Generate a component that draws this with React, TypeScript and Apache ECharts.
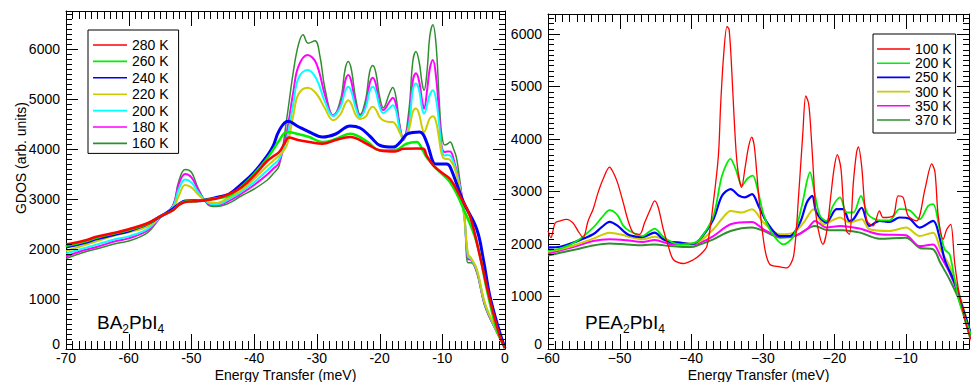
import React, { useEffect, useRef } from "react";
import * as echarts from "echarts";

const FONT = "'Liberation Sans', Arial, Helvetica, sans-serif";

// ---------- BA2PbI4 (left panel) : [energy transfer (meV), GDOS] ----------
const baNames = ["280 K", "260 K", "240 K", "220 K", "200 K", "180 K", "160 K"];
const baColors = ["#ff0000", "#00ee00", "#0000ff", "#cccc00", "#00ffff", "#ff00ff", "#2f8f2f"];
const baWidths = [2.5, 2.5, 3, 2, 2, 2, 1.5];

const ba280: number[][] = [[-70,2090],[-67,2170],[-65,2250],[-62,2330],[-60,2395],[-57,2515],[-55,2650],[-53,2770],[-52,2880],[-51,2940],[-50,2950],[-49,2960],[-48,2975],[-47,2990],[-46,3010],[-44,3099],[-42,3233],[-40,3468],[-38,3750],[-37,3850],[-36,3940],[-35,4150],[-34.5,4230],[-33,4180],[-31.2,4139],[-29.1,4105],[-27,4180],[-24.7,4239],[-22,4100],[-19.9,3970],[-17.5,3950],[-16.2,4004],[-14,4010],[-13,4004],[-12.5,3869],[-11.4,3668],[-10,3520],[-8.75,3400],[-7.2,3065],[-5.6,2662],[-4,1857],[-2.4,986],[-0.8,247],[0,20]];
const ba260: number[][] = [[-70,2060],[-67,2150],[-65,2230],[-62,2320],[-60,2380],[-57,2505],[-55,2650],[-53,2770],[-52,2885],[-51,2950],[-50,2955],[-49,2962],[-48,2980],[-47,2995],[-46,3015],[-44,3065],[-42,3250],[-40,3500],[-38,3800],[-37,3980],[-36,4171],[-34.8,4340],[-33,4300],[-31.2,4239],[-29.1,4139],[-27,4200],[-24.7,4306],[-22,4150],[-19.9,3970],[-17.5,3980],[-15.7,4105],[-14.1,4139],[-13.1,3970],[-12.5,3836],[-10.9,3602],[-8.75,3333],[-6.6,2797],[-4.5,2126],[-2.9,1187],[-1.3,382],[0,20]];
const ba240: number[][] = [[-70,2040],[-67,2130],[-65,2207],[-62,2300],[-60,2360],[-57,2500],[-55,2650],[-53,2797],[-52,2897],[-51,2960],[-50,2964],[-49,2964],[-48,2975],[-47,3000],[-46,3030],[-44,3099],[-42,3300],[-40,3535],[-38,3850],[-37,4050],[-36,4370],[-34.6,4553],[-33,4450],[-31.2,4340],[-29.1,4239],[-27,4300],[-24.7,4461],[-23.1,4420],[-21.5,4250],[-19.9,4070],[-17.8,4038],[-16.7,4139],[-15.5,4306],[-13.6,4340],[-12.5,4139],[-11.4,3720],[-10.9,3700],[-9.3,3702],[-8.75,3642],[-6.6,2932],[-4.5,2394],[-3.45,1791],[-2.4,1053],[-0.8,316],[0,20]];
const ba220: number[][] = [[-70,1960],[-67,2080],[-65,2160],[-62,2280],[-60,2334],[-57,2448],[-55,2640],[-53,2800],[-52,3065],[-51,3280],[-50,3233],[-49,3100],[-48,2990],[-47,2930],[-46,2920],[-44,3032],[-42,3186],[-40,3400],[-38,3650],[-37,3760],[-36,3870],[-34.8,4070],[-33.75,4674],[-32.95,5090],[-31.5,5225],[-30.1,5110],[-28.7,4809],[-27.4,4574],[-26.2,4700],[-25.5,4900],[-25,4976],[-24.5,4900],[-23.8,4680],[-23.1,4600],[-22.2,4650],[-21.6,4790],[-21.1,4843],[-20.6,4790],[-20,4640],[-19.4,4574],[-18.4,4540],[-17.9,4541],[-17.4,4480],[-16.8,4330],[-16.2,4205],[-15.3,4400],[-14.7,4740],[-14.2,4809],[-13.7,4700],[-13.2,4420],[-12.9,4340],[-12.4,4480],[-12,4610],[-11.5,4654],[-11,4550],[-10.5,4200],[-10.1,3900],[-9.6,3803],[-9.2,3800],[-8.75,3780],[-8,3600],[-7.2,3200],[-6.5,2650],[-5.9,1900],[-5.4,1820],[-4.5,1600],[-3.2,920],[-1.5,410],[0,20]];
const ba200: number[][] = [[-70,1910],[-67,2020],[-65,2093],[-62,2200],[-60,2253],[-57,2400],[-55,2630],[-53,2830],[-52,3200],[-51,3390],[-50,3333],[-49,3150],[-48,2990],[-47,2905],[-46,2895],[-44,2998],[-42,3150],[-40,3333],[-38,3560],[-37,3680],[-36,3800],[-34.8,4205],[-33.75,4909],[-32.95,5412],[-31.5,5580],[-30.1,5412],[-28.7,4943],[-27.4,4661],[-26.2,4850],[-25.5,5150],[-25,5245],[-24.5,5150],[-23.8,4820],[-23.1,4640],[-22.2,4830],[-21.6,5150],[-21.1,5245],[-20.6,5150],[-20,4850],[-19.4,4720],[-18.4,4820],[-17.9,4876],[-17.4,4780],[-16.8,4400],[-16.2,4190],[-15.3,4500],[-14.7,5180],[-14.2,5312],[-13.7,5180],[-13.2,4800],[-12.9,4708],[-12.4,4900],[-12,5080],[-11.5,5177],[-11,5000],[-10.5,4500],[-10.1,4000],[-9.6,3870],[-9.2,3880],[-8.75,3870],[-8,3650],[-7.2,3250],[-6.5,2650],[-5.9,1850],[-5.4,1800],[-4.5,1580],[-3.2,900],[-1.5,400],[0,20]];
const ba180: number[][] = [[-70,1850],[-67,1980],[-65,2046],[-62,2160],[-60,2213],[-57,2370],[-55,2625],[-53,2850],[-52,3300],[-51,3500],[-50,3434],[-49,3200],[-48,2990],[-47,2890],[-46,2875],[-44,2964],[-42,3110],[-40,3280],[-38,3480],[-37,3600],[-36,3730],[-34.8,4340],[-33.75,5145],[-32.95,5647],[-31.5,5881],[-30.1,5714],[-28.7,5077],[-27.4,4674],[-26.2,4900],[-25.5,5350],[-25,5479],[-24.5,5350],[-23.8,4880],[-23.1,4650],[-22.2,4880],[-21.6,5300],[-21.1,5426],[-20.6,5300],[-20,4900],[-19.4,4780],[-18.4,4950],[-17.9,5024],[-17.4,4900],[-16.8,4450],[-16.2,4200],[-15.3,4600],[-14.7,5360],[-14.2,5513],[-13.7,5360],[-13.2,4950],[-12.9,4809],[-12.4,5200],[-12,5600],[-11.5,5781],[-11,5450],[-10.5,4700],[-10.1,4050],[-9.6,3940],[-9.2,3950],[-8.75,3950],[-8,3700],[-7.2,3300],[-6.5,2700],[-5.9,1800],[-5.4,1780],[-4.5,1560],[-3.2,880],[-1.5,390],[0,20]];
const ba160: number[][] = [[-70,1810],[-67,1940],[-65,2005],[-62,2110],[-60,2159],[-57,2327],[-55,2620],[-53,2864],[-52,3366],[-51,3590],[-50,3535],[-49,3233],[-48,2998],[-47,2860],[-46,2850],[-44,2917],[-42,3065],[-40,3200],[-38,3370],[-37,3500],[-36,3670],[-34.8,4608],[-33.75,5547],[-32.95,6082],[-32.2,6284],[-31.4,6117],[-30.3,6163],[-29.5,5850],[-28.7,5200],[-27.4,4662],[-26.2,5000],[-25.5,5590],[-25,5748],[-24.5,5590],[-23.8,5000],[-23.1,4688],[-22.2,5000],[-21.6,5530],[-21.1,5668],[-20.6,5530],[-20,5050],[-19.4,4823],[-18.4,5120],[-17.9,5231],[-17.4,5050],[-16.8,4500],[-16.2,4171],[-15.3,4800],[-14.7,5750],[-14.2,5949],[-13.7,5750],[-13.2,5300],[-12.9,5177],[-12.4,5600],[-12,6250],[-11.5,6485],[-11,6100],[-10.5,5000],[-10.1,4300],[-9.6,4080],[-9.2,4100],[-8.75,4139],[-8.2,4000],[-7.7,3803],[-6.9,3065],[-6.4,2535],[-5.9,1724],[-5.4,1724],[-4.5,1523],[-3.2,851],[-1.5,382],[0,20]];
const baData = [ba280, ba260, ba240, ba220, ba200, ba180, ba160];

// ---------- PEA2PbI4 (right panel) ----------
const peaNames = ["100 K", "200 K", "250 K", "300 K", "350 K", "370 K"];
const peaColors = ["#ff0000", "#00ee00", "#0000ff", "#cccc00", "#ff00ff", "#2f8f2f"];
const peaWidths = [1.3, 1.8, 2.2, 2, 2, 2];

const pea100: number[][] = [[-60,2250],[-59.6,2120],[-59,2400],[-58.3,2440],[-57.4,2470],[-56.5,2400],[-55.8,2247],[-55.1,2121],[-54.4,2439],[-53.7,2663],[-53,2983],[-52.3,3238],[-51.4,3462],[-50.9,3366],[-50.3,3174],[-49.5,2791],[-48.8,2439],[-48.1,2216],[-47.2,2184],[-46.5,2408],[-45.7,2663],[-45.1,2822],[-44.6,2695],[-43.9,2280],[-43.2,1960],[-42.5,1705],[-41.1,1628],[-39.7,1700],[-38.8,1790],[-37.8,1960],[-36.9,2800],[-36.2,3684],[-35.9,4611],[-35.5,5536],[-35,6143],[-34.7,6079],[-34.35,5345],[-34,4387],[-33.56,3493],[-32.95,3078],[-32.5,3429],[-32,3845],[-31.55,4036],[-31.2,3876],[-30.85,3366],[-30.4,2663],[-29.7,1897],[-29,1609],[-27.6,1565],[-26.66,1546],[-25.7,1769],[-25,2918],[-24.4,4132],[-24,4822],[-23.6,4674],[-23.3,4195],[-22.9,3301],[-22.5,2471],[-21.6,1992],[-21.1,2216],[-20.5,2918],[-20.05,3429],[-19.6,3700],[-19.1,3450],[-18.75,2791],[-18.3,2247],[-17.9,2184],[-17.35,3174],[-16.9,3749],[-16.65,3850],[-16.2,3493],[-15.5,2450],[-14.6,2343],[-13.7,2630],[-13.2,2504],[-11.8,2534],[-11.1,2918],[-10.4,2886],[-9.7,2534],[-8.5,2439],[-7.35,3046],[-6.4,3525],[-5.95,3366],[-5.5,2534],[-4.8,2088],[-4.3,2280],[-3.75,2375],[-3.2,1641],[-2.5,1002],[-1.5,427],[-0.8,140]];
const pea200: number[][] = [[-60,1880],[-58.3,1910],[-56,2050],[-53.7,2312],[-52.5,2500],[-51.4,2644],[-50.3,2550],[-49.5,2350],[-48.6,2247],[-46.8,2151],[-45.8,2240],[-45.1,2293],[-44,2150],[-43,2056],[-41.6,1992],[-40,2005],[-38.8,2088],[-36.9,2534],[-35.7,3301],[-34.5,3621],[-33.8,3429],[-32.9,3109],[-32.2,3238],[-31.4,3301],[-30.85,3109],[-29.9,2567],[-28.75,2216],[-27.1,1992],[-25.7,2151],[-24.55,2726],[-23.4,3366],[-22.7,2918],[-22,2534],[-21.1,2439],[-20.2,2726],[-19.2,2886],[-18.3,2600],[-17.35,2600],[-16.3,2918],[-15.3,2560],[-13.7,2450],[-12.3,2450],[-10.9,2663],[-9.5,2640],[-8.1,2471],[-6.9,2726],[-6.2,2759],[-5.3,2280],[-4.6,1897],[-3.9,1801],[-3.2,1322],[-2.5,875],[-1.5,492],[-0.8,236]];
const pea250: number[][] = [[-60,1935],[-58.3,1948],[-56,2050],[-53.7,2184],[-52.5,2320],[-51.4,2420],[-50.3,2350],[-49.5,2250],[-48.6,2165],[-46.8,2130],[-45.1,2216],[-44,2100],[-43,2040],[-41.6,2025],[-40,2000],[-38.8,2088],[-36.9,2471],[-35.7,2918],[-34.5,3046],[-33.3,2918],[-32.5,2886],[-31.5,2950],[-30.6,2726],[-29.4,2408],[-27.6,2151],[-26.2,2151],[-24.8,2408],[-23.85,2791],[-23.1,2918],[-22.5,2600],[-21.1,2408],[-19.7,2663],[-18.75,2663],[-17.9,2439],[-17.35,2471],[-16.2,2690],[-15.1,2343],[-13.7,2439],[-12.3,2420],[-10.9,2504],[-9.5,2480],[-8.1,2312],[-6.2,2439],[-5.3,2121],[-4.6,1705],[-3.2,1258],[-2,747],[-0.8,236]];
const pea300: number[][] = [[-60,1850],[-58.3,1897],[-56,1990],[-53.7,2101],[-51.4,2216],[-49.5,2170],[-48.6,2133],[-46.8,2090],[-45.1,2139],[-43,2040],[-41.6,2025],[-40,2010],[-38.8,2050],[-36.9,2280],[-35.7,2480],[-34.5,2630],[-32.9,2600],[-31.5,2663],[-29.9,2408],[-27.6,2184],[-25.7,2216],[-24.3,2408],[-22.9,2663],[-21.5,2375],[-19.2,2504],[-17.9,2408],[-16.2,2471],[-15.1,2280],[-12.3,2247],[-10,2312],[-8.1,2151],[-6.2,2216],[-5.2,1897],[-3.9,1577],[-2.6,1067],[-1.5,556],[-0.7,140]];
const pea350: number[][] = [[-60,1820],[-58.3,1877],[-56,1960],[-53.7,2056],[-51.4,2088],[-49,2070],[-46.8,2040],[-45.1,2075],[-43,2000],[-41.6,1992],[-40,1990],[-38.8,2020],[-36.9,2151],[-34.5,2375],[-31.5,2420],[-29.9,2280],[-27.6,2151],[-25.7,2151],[-23.85,2280],[-22.7,2439],[-21.1,2312],[-19.2,2343],[-16.5,2293],[-13.7,2184],[-10,2165],[-8.1,1960],[-6.2,1992],[-5.2,1769],[-3.9,1450],[-2.6,1002],[-1.5,492],[-0.7,108]];
const pea370: number[][] = [[-60,1780],[-58.3,1833],[-56,1900],[-53.7,1973],[-51.4,2011],[-49,1990],[-46.8,1975],[-45.1,1992],[-43,1960],[-41.6,1948],[-40,1941],[-38.8,1990],[-36.9,2088],[-34.5,2247],[-31.5,2312],[-29.9,2250],[-27.6,2121],[-25.7,2140],[-22.7,2343],[-21.1,2267],[-18.75,2260],[-16.4,2216],[-13.7,2100],[-10,2121],[-8.1,1929],[-6.2,1897],[-5.2,1641],[-3.9,1322],[-2.6,939],[-1.5,427],[-0.7,44]];
const peaData = [pea100, pea200, pea250, pea300, pea350, pea370];

// axis ranges and tick steps
type Range = { min: number; max: number; interval: number; minor: number };
const baX: Range = { min: -70, max: 0, interval: 10, minor: 1 };
const baY: Range = { min: 0, max: 6760, interval: 1000, minor: 100 };
const peaX: Range = { min: -60, max: -1.2, interval: 10, minor: 1 };
const peaY: Range = { min: 0, max: 6380, interval: 1000, minor: 100 };

type Box = { left: number; top: number; width: number; height: number };
const baGrid: Box = { left: 66, top: 11, width: 439, height: 338 };
const peaGrid: Box = { left: 548, top: 14, width: 421, height: 335 };

const black = { color: "#000", width: 1 };

function tickValues(r: Range): number[] {
  const out: number[] = [];
  const n = Math.floor((r.max - r.min) / r.minor + 1e-9);
  for (let i = 0; i <= n; i++) out.push(Math.round((r.min + i * r.minor) * 1000) / 1000);
  return out;
}
const isMajor = (v: number, r: Range) => Math.abs(v % r.interval) < 1e-6;

// frame tick marks (axis decoration), mapped linearly from the axis ranges onto the grid box
function frameTicks(g: Box, xr: Range, yr: Range): any[] {
  const out: any[] = [];
  const st = { stroke: "#000", lineWidth: 1 };
  const bottom = g.top + g.height;
  const right = g.left + g.width;
  for (const v of tickValues(xr)) {
    const L = isMajor(v, xr) ? 15 : 8;
    const x = Math.round(g.left + ((v - xr.min) / (xr.max - xr.min)) * g.width) + 0.5;
    out.push({ type: "line", silent: true, z: 30, shape: { x1: x, y1: bottom, x2: x, y2: bottom - L }, style: st });
    out.push({ type: "line", silent: true, z: 30, shape: { x1: x, y1: g.top, x2: x, y2: g.top + L }, style: st });
  }
  for (const v of tickValues(yr)) {
    const L = isMajor(v, yr) ? 12 : 6;
    const y = Math.round(bottom - ((v - yr.min) / (yr.max - yr.min)) * g.height) + 0.5;
    out.push({ type: "line", silent: true, z: 30, shape: { x1: g.left, y1: y, x2: g.left + L, y2: y }, style: st });
    out.push({ type: "line", silent: true, z: 30, shape: { x1: right, y1: y, x2: right - L, y2: y }, style: st });
  }
  return out;
}

function axisBase(grid: number, r: Range) {
  return {
    gridIndex: grid,
    type: "value",
    min: r.min,
    max: r.max,
    interval: r.interval,
    axisLine: { show: true, onZero: false, lineStyle: black },
    axisTick: { show: false },
    minorTick: { show: false },
    splitLine: { show: false },
    minorSplitLine: { show: false },
  };
}

function xAxes(grid: number, r: Range, unicodeMinus: boolean, gap: number) {
  const base = axisBase(grid, r);
  return [
    {
      ...base,
      position: "bottom",
      name: "Energy Transfer (meV)",
      nameLocation: "middle",
      nameGap: gap,
      nameMoveOverlap: false,
      nameTextStyle: { color: "#000", fontSize: 14, fontFamily: FONT, verticalAlign: "top" },
      axisLabel: {
        color: "#000",
        fontSize: 14,
        fontFamily: FONT,
        margin: 2,
        hideOverlap: false,
        formatter: (v: number) => {
          if (Math.abs(v % 10) > 1e-6) return "";
          const s = String(v);
          return unicodeMinus ? s.replace("-", "\u2212") : s;
        },
      },
    },
    { ...base, position: "top", axisLabel: { show: false } },
  ];
}

function yAxes(grid: number, r: Range) {
  const base = axisBase(grid, r);
  return [
    {
      ...base,
      position: "left",
      axisLabel: {
        color: "#000",
        fontSize: 14,
        fontFamily: FONT,
        margin: 6,
        hideOverlap: false,
        formatter: (v: number) => (v === 0 ? "{z|0}" : v % 1000 === 0 ? String(v) : ""),
        rich: { z: { fontSize: 14, fontFamily: FONT, color: "#000", padding: [0, 0, 10, 0] } },
      },
    },
    { ...base, position: "right", axisLabel: { show: false } },
  ];
}

const textGraphics: any[] = [
  {
    type: "text",
    x: 21,
    y: 158,
    rotation: Math.PI / 2,
    style: { text: "GDOS (arb. units)", fill: "#000", fontSize: 14, fontFamily: FONT, align: "center", verticalAlign: "middle" },
  },
  {
    type: "text",
    x: 97,
    y: 322,
    style: {
      text: "{a|BA}{s|2}{a|PbI}{s|4}",
      fill: "#000",
      verticalAlign: "middle",
      rich: {
        a: { fontSize: 19, fontFamily: FONT, fill: "#000", lineHeight: 26 },
        s: { fontSize: 12, fontFamily: FONT, fill: "#000", lineHeight: 26, verticalAlign: "bottom" },
      },
    },
  },
  {
    type: "text",
    x: 585,
    y: 322,
    style: {
      text: "{a|PEA}{s|2}{a|PbI}{s|4}",
      fill: "#000",
      verticalAlign: "middle",
      rich: {
        a: { fontSize: 19, fontFamily: FONT, fill: "#000", lineHeight: 26 },
        s: { fontSize: 12, fontFamily: FONT, fill: "#000", lineHeight: 26, verticalAlign: "bottom" },
      },
    },
  },
];

export default function App() {
  const ref = useRef<HTMLDivElement>(null);
  useEffect(() => {
    if (!ref.current) return;
    const chart = echarts.init(ref.current, undefined, { renderer: "svg" });
    const series: any[] = [];
    baData.forEach((d, i) => {
      series.push({
        type: "line",
        name: baNames[i],
        xAxisIndex: 0,
        yAxisIndex: 0,
        data: d,
        showSymbol: false,
        symbol: "none",
        smooth: 0.4,
        lineStyle: { color: baColors[i], width: baWidths[i] },
        itemStyle: { color: baColors[i] },
        z: 10 - i,
      });
    });
    peaData.forEach((d, i) => {
      series.push({
        type: "line",
        name: "PEA " + peaNames[i],
        xAxisIndex: 2,
        yAxisIndex: 2,
        data: d,
        showSymbol: false,
        symbol: "none",
        smooth: 0.3,
        lineStyle: { color: peaColors[i], width: peaWidths[i] },
        itemStyle: { color: peaColors[i] },
        z: 20 - i,
      });
    });

    let ticks: any[] = [];
    try {
      ticks = [...frameTicks(baGrid, baX, baY), ...frameTicks(peaGrid, peaX, peaY)];
    } catch (e) {
      ticks = [];
    }

    const legendCommon = {
      orient: "vertical",
      itemHeight: 14,
      icon: "path://M0,0H34V1.6H0Z",
      borderColor: "#000",
      borderWidth: 1,
      backgroundColor: "#fff",
      borderRadius: 0,
      selectedMode: false,
      z: 40,
      textStyle: { color: "#000", fontSize: 14, fontFamily: FONT, lineHeight: 14 },
    };
    const option: any = {
      animation: false,
      backgroundColor: "#fff",
      grid: [
        { ...baGrid, outerBoundsMode: "none" },
        { ...peaGrid, outerBoundsMode: "none" },
      ],
      xAxis: [...xAxes(0, baX, false, 19), ...xAxes(1, peaX, true, 19)],
      yAxis: [...yAxes(0, baY), ...yAxes(1, peaY)],
      legend: [
        { ...legendCommon, left: 88, top: 30, itemWidth: 34, itemGap: 2.4, padding: [8, 10, 3, 5], data: baNames },
        {
          ...legendCommon,
          left: 873,
          top: 34,
          itemWidth: 33,
          itemGap: 0.2,
          padding: [8, 4, 6, 4],
          data: peaNames.map((n) => "PEA " + n),
          formatter: (n: string) => n.replace(/^PEA /, ""),
        },
      ],
      graphic: [...textGraphics, ...ticks],
      series,
    };
    chart.setOption(option);
    return () => chart.dispose();
  }, []);
  return (
    <div
      ref={ref}
      style={{ position: "fixed", left: 0, top: 0, width: 973, height: 382, background: "#fff" }}
    />
  );
}
